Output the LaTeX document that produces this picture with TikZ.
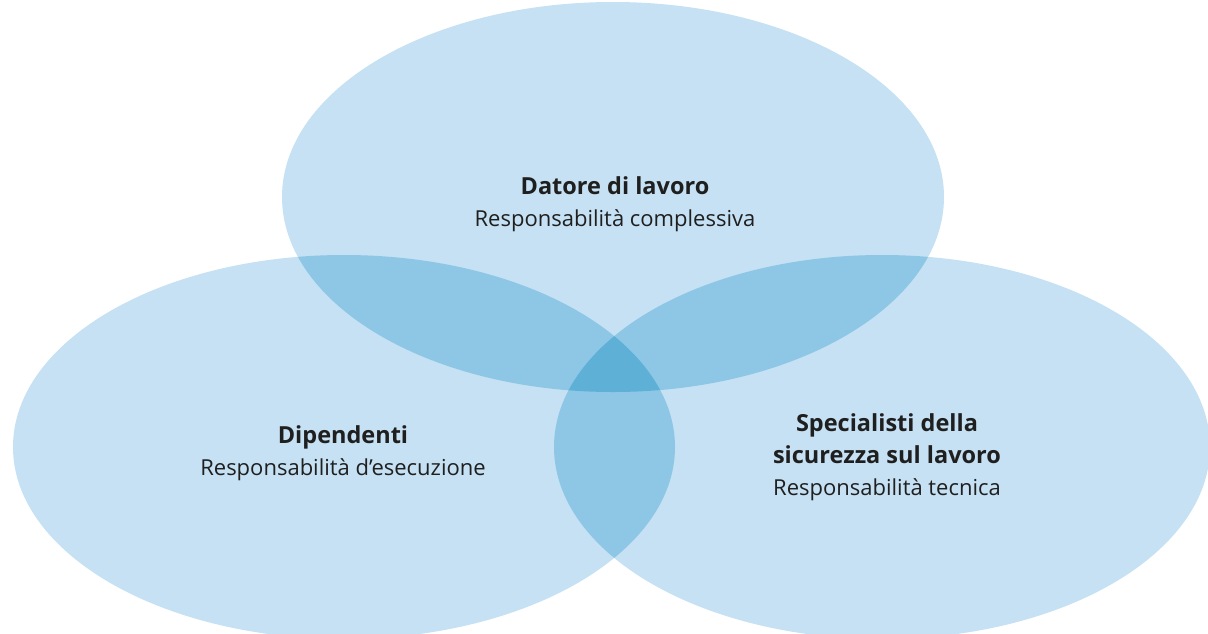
\documentclass[tikz,border=0pt]{standalone}
\usepackage{fontspec}
\setmainfont{Open Sans}
\usetikzlibrary{shapes}
\definecolor{singleblue}{RGB}{197,225,243}
\definecolor{doubleblue}{RGB}{141,199,229}
\definecolor{tripleblue}{RGB}{94,176,214}
\tikzstyle{area}=[fill=singleblue]
\tikzstyle{role}=[align=center,text=black!88,inner sep=0pt,font=\fontsize{22}{32}\selectfont]
\newcommand{\head}[1]{{\fontsize{23.5}{32}\selectfont\textbf{#1}}}
\newcommand{\ellTop}{(613,197) ellipse [x radius=331pt, y radius=195pt]}
\newcommand{\ellLeft}{(344,447) ellipse [x radius=331pt, y radius=192pt]}
\newcommand{\ellRight}{(882,447) ellipse [x radius=328pt, y radius=192pt]}

\begin{document}
\begin{tikzpicture}[x=1pt,y=-1pt]
    \useasboundingbox (0,0) rectangle (1208,633);
    \clip (0,0) rectangle (1208,633);
    % single areas
    \fill[area] \ellTop;
    \fill[area] \ellLeft;
    \fill[area] \ellRight;
    % pairwise overlaps
    \begin{scope}
        \clip \ellTop;
        \fill[doubleblue] \ellLeft;
        \fill[doubleblue] \ellRight;
    \end{scope}
    \begin{scope}
        \clip \ellLeft;
        \fill[doubleblue] \ellRight;
    \end{scope}
    % centre
    \begin{scope}
        \clip \ellTop;
        \clip \ellLeft;
        \fill[tripleblue] \ellRight;
    \end{scope}
    \node[role] (datore) at (615,204) {\head{Datore di lavoro}\\Responsabilità complessiva};
    \node[role] (dipendenti) at (343,453) {\head{Dipendenti}\\Responsabilità d’esecuzione};
    \node[role] (specialisti) at (887,457) {\head{Specialisti della}\\\head{sicurezza sul lavoro}\\Responsabilità tecnica};
\end{tikzpicture}
\end{document}
